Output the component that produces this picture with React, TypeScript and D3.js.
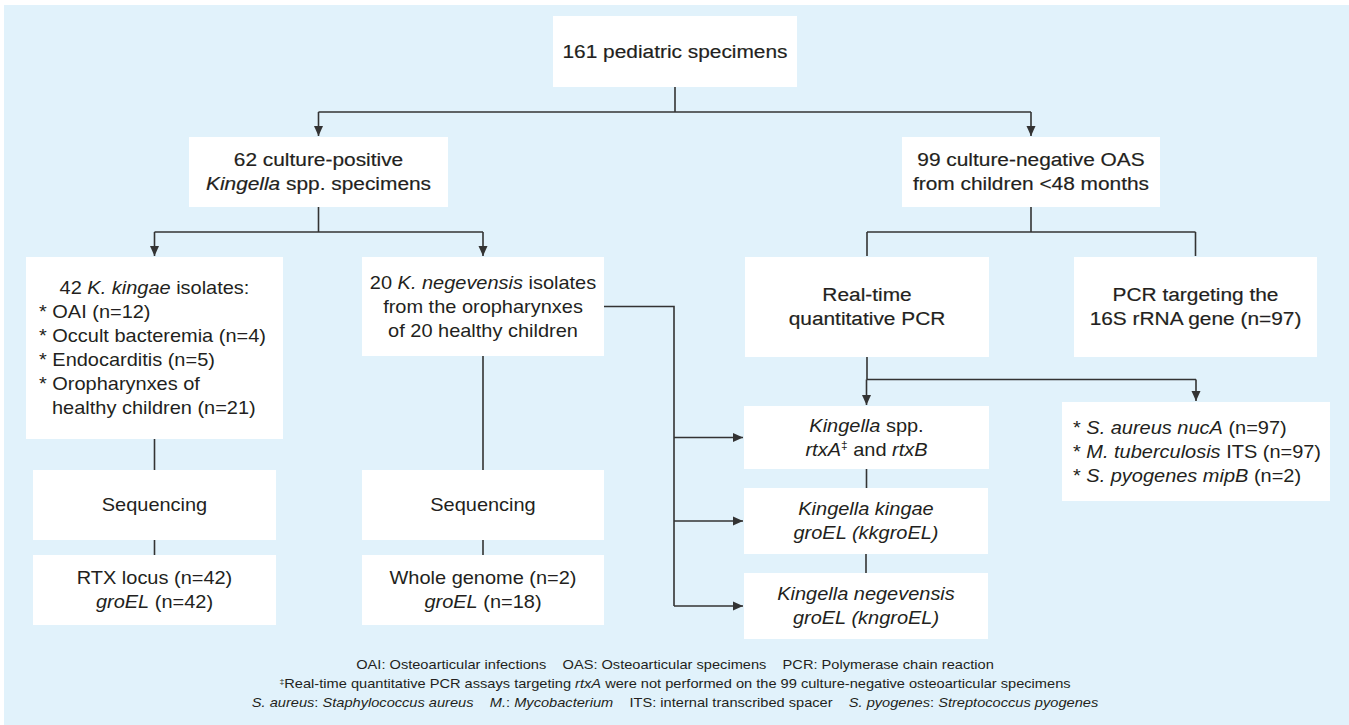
import React from 'react';
import * as d3 from 'd3';

// a label line is a list of [text, style] segments: "n" normal, "i" italic, "s" superscript
type Seg = [string, string];
type Line = { segs: Seg[]; left?: number };

const topLabel: Line[] = [{ segs: [['161 pediatric specimens', 'n']] }];
const positiveLabel: Line[] = [
  { segs: [['62 culture-positive', 'n']] },
  { segs: [['Kingella', 'i'], [' spp. specimens', 'n']] },
];
const negativeLabel: Line[] = [
  { segs: [['99 culture-negative OAS', 'n']] },
  { segs: [['from children <48 months', 'n']] },
];
const kingaeLabel: Line[] = [
  { segs: [['42 ', 'n'], ['K. kingae', 'i'], [' isolates:', 'n']] },
  { segs: [['* OAI (n=12)', 'n']], left: 39 },
  { segs: [['* Occult bacteremia (n=4)', 'n']], left: 39 },
  { segs: [['* Endocarditis (n=5)', 'n']], left: 39 },
  { segs: [['* Oropharynxes of', 'n']], left: 39 },
  { segs: [['healthy children (n=21)', 'n']], left: 52 },
];
const negevensisLabel: Line[] = [
  { segs: [['20 ', 'n'], ['K. negevensis', 'i'], [' isolates', 'n']] },
  { segs: [['from the oropharynxes', 'n']] },
  { segs: [['of 20 healthy children', 'n']] },
];
const seqLabel: Line[] = [{ segs: [['Sequencing', 'n']] }];
const rtxLabel: Line[] = [
  { segs: [['RTX locus (n=42)', 'n']] },
  { segs: [['groEL', 'i'], [' (n=42)', 'n']] },
];
const genomeLabel: Line[] = [
  { segs: [['Whole genome (n=2)', 'n']] },
  { segs: [['groEL', 'i'], [' (n=18)', 'n']] },
];
const qpcrLabel: Line[] = [
  { segs: [['Real-time', 'n']] },
  { segs: [['quantitative PCR', 'n']] },
];
const rrnaLabel: Line[] = [
  { segs: [['PCR targeting the', 'n']] },
  { segs: [['16S rRNA gene (n=97)', 'n']] },
];
const rtxTargetLabel: Line[] = [
  { segs: [['Kingella', 'i'], [' spp.', 'n']] },
  { segs: [['rtxA', 'i'], ['‡', 's'], [' and ', 'n'], ['rtxB', 'i']] },
];
const otherTargetLabel: Line[] = [
  { segs: [['* ', 'n'], ['S. aureus nucA', 'i'], [' (n=97)', 'n']], left: 1073 },
  { segs: [['* ', 'n'], ['M. tuberculosis', 'i'], [' ITS (n=97)', 'n']], left: 1073 },
  { segs: [['* ', 'n'], ['S. pyogenes mipB', 'i'], [' (n=2)', 'n']], left: 1073 },
];
const kkLabel: Line[] = [
  { segs: [['Kingella kingae', 'i']] },
  { segs: [['groEL (kkgroEL)', 'i']] },
];
const knLabel: Line[] = [
  { segs: [['Kingella negevensis', 'i']] },
  { segs: [['groEL (kngroEL)', 'i']] },
];

const gap = '\u00A0\u00A0\u00A0\u00A0';
const footnotes: Seg[][] = [
  [[`OAI: Osteoarticular infections${gap}OAS: Osteoarticular specimens${gap}PCR: Polymerase chain reaction`, 'n']],
  [['‡', 's'], ['Real-time quantitative PCR assays targeting ', 'n'], ['rtxA', 'i'],
    [' were not performed on the 99 culture-negative osteoarticular specimens', 'n']],
  [['S. aureus', 'i'], [': ', 'n'], ['Staphylococcus aureus', 'i'], [gap, 'n'], ['M.', 'i'], [': ', 'n'],
    ['Mycobacterium', 'i'], [`${gap}ITS: internal transcribed spacer${gap}`, 'n'], ['S. pyogenes', 'i'],
    [': ', 'n'], ['Streptococcus pyogenes', 'i']],
];

type Box = { id: string; label: Line[]; x0: number; y0: number; x1: number; y1: number; emph?: boolean };

const boxes: Box[] = [
  { id: 'top', label: topLabel, x0: 553, y0: 16, x1: 797, y1: 87, emph: true },
  { id: 'pos', label: positiveLabel, x0: 189, y0: 137, x1: 448, y1: 207, emph: true },
  { id: 'neg', label: negativeLabel, x0: 902, y0: 137, x1: 1160, y1: 207, emph: true },
  { id: 'kk42', label: kingaeLabel, x0: 26, y0: 257, x1: 283, y1: 439 },
  { id: 'kn20', label: negevensisLabel, x0: 362, y0: 257, x1: 604, y1: 356 },
  { id: 'seqL', label: seqLabel, x0: 33, y0: 470, x1: 276, y1: 540 },
  { id: 'rtx', label: rtxLabel, x0: 33, y0: 555, x1: 276, y1: 625 },
  { id: 'seqR', label: seqLabel, x0: 362, y0: 470, x1: 604, y1: 540 },
  { id: 'wg', label: genomeLabel, x0: 362, y0: 555, x1: 604, y1: 625 },
  { id: 'rt', label: qpcrLabel, x0: 745, y0: 257, x1: 989, y1: 357, emph: true },
  { id: 'pcr16', label: rrnaLabel, x0: 1074, y0: 257, x1: 1317, y1: 357, emph: true },
  { id: 'kspp', label: rtxTargetLabel, x0: 744, y0: 406, x1: 989, y1: 469 },
  { id: 'saur', label: otherTargetLabel, x0: 1062, y0: 402, x1: 1330, y1: 501 },
  { id: 'kkgro', label: kkLabel, x0: 744, y0: 488, x1: 988, y1: 554 },
  { id: 'kngro', label: knLabel, x0: 744, y0: 573, x1: 988, y1: 639 },
];

const W = 1349;
const H = 725;
const FONT = 18;
const LH = 24;
const INK = '#231f20';
const LINE = '#333333';

const byId = (id: string) => boxes.find(b => b.id === id)!;
const cx = (b: Box) => (b.x0 + b.x1) / 2;
const cy = (b: Box) => (b.y0 + b.y1) / 2;

type Edge = { pts: [number, number][]; arrow: boolean };

// parent -> children through a horizontal bus below the parent
function tree(from: string, tos: string[], arrow: boolean): Edge[] {
  const f = byId(from);
  const ts = tos.map(byId);
  const midY = (f.y1 + d3.min(ts, t => t.y0)!) / 2;
  const xs = ts.map(cx);
  const out: Edge[] = [
    { pts: [[cx(f), f.y1], [cx(f), midY]], arrow: false },
    { pts: [[d3.min(xs)!, midY], [d3.max(xs)!, midY]], arrow: false },
  ];
  ts.forEach(t => out.push({ pts: [[cx(t), midY], [cx(t), t.y0 - 1]], arrow }));
  return out;
}

function straight(from: string, to: string): Edge {
  const f = byId(from);
  const t = byId(to);
  return { pts: [[cx(f), f.y1], [cx(f), t.y0]], arrow: false };
}

// box side -> vertical bus -> arrows into left side of targets
function side(from: string, busX: number, tos: string[]): Edge[] {
  const f = byId(from);
  const ts = tos.map(byId);
  const lastY = cy(ts[ts.length - 1]);
  const out: Edge[] = [{ pts: [[f.x1, cy(f)], [busX, cy(f)], [busX, lastY]], arrow: false }];
  ts.forEach(t => out.push({ pts: [[busX, cy(t)], [t.x0 - 1, cy(t)]], arrow: true }));
  return out;
}

const edges: Edge[] = [
  ...tree('top', ['pos', 'neg'], true),
  ...tree('pos', ['kk42', 'kn20'], true),
  ...tree('neg', ['rt', 'pcr16'], false),
  ...tree('rt', ['kspp', 'saur'], true),
  straight('kk42', 'seqL'),
  straight('seqL', 'rtx'),
  straight('kn20', 'seqR'),
  straight('seqR', 'wg'),
  straight('kspp', 'kkgro'),
  straight('kkgro', 'kngro'),
  ...side('kn20', 674, ['kspp', 'kkgro', 'kngro']),
];

const path = d3.line();

function Segs({ segs, size }: { segs: Seg[]; size: number }) {
  return (
    <>
      {segs.map(([t, s], i) =>
        s === 's' ? (
          <tspan key={i} fontSize={size * 0.6} dy={-size * 0.35}>{t}</tspan>
        ) : (
          <tspan key={i} fontStyle={s === 'i' ? 'italic' : 'normal'} dy={i > 0 && segs[i - 1][1] === 's' ? size * 0.35 : 0}>{t}</tspan>
        )
      )}
    </>
  );
}

function BoxNode({ b }: { b: Box }) {
  const n = b.label.length;
  const first = cy(b) - ((n - 1) * LH) / 2 + 6;
  const sx = b.emph ? 1.16 : 1.11;
  return (
    <g>
      <rect x={b.x0} y={b.y0} width={b.x1 - b.x0} height={b.y1 - b.y0} fill="#ffffff" />
      {b.label.map((ln, i) => {
        const x = ln.left ?? cx(b);
        const y = first + i * LH;
        return (
          <text
            key={i}
            transform={`translate(${x},${y}) scale(${sx},1)`}
            textAnchor={ln.left != null ? 'start' : 'middle'}
            fontSize={FONT}
            fill={INK}
            stroke={b.emph ? INK : 'none'}
            strokeWidth={b.emph ? 0.18 : 0}
          >
            <Segs segs={ln.segs} size={FONT} />
          </text>
        );
      })}
    </g>
  );
}

export default function App() {
  return (
    <svg
      width={W}
      height={H}
      style={{ position: 'absolute', left: 0, top: 0, fontFamily: '"Liberation Sans", Arial, sans-serif' }}
    >
      <defs>
        <marker id="arr" viewBox="0 0 10 10" refX="10" refY="5" markerWidth="10" markerHeight="10"
          markerUnits="userSpaceOnUse" orient="auto">
          <path d="M0,0.5 L10,5 L0,9.5 z" fill={LINE} />
        </marker>
      </defs>
      <rect width={W} height={H} fill="#ffffff" />
      <rect x={4} y={5} width={W - 4} height={H - 5} fill="#e1f2fb" />
      {edges.map((e, i) => (
        <path key={i} d={path(e.pts) ?? ''} fill="none" stroke={LINE} strokeWidth={1.6}
          markerEnd={e.arrow ? 'url(#arr)' : undefined} />
      ))}
      {boxes.map(b => <BoxNode key={b.id} b={b} />)}
      {footnotes.map((segs, i) => (
        <text key={i} transform={`translate(675,${669 + i * 19}) scale(1.17,1)`} textAnchor="middle"
          fontSize={12.5} fill={INK}>
          <Segs segs={segs} size={12.5} />
        </text>
      ))}
    </svg>
  );
}
